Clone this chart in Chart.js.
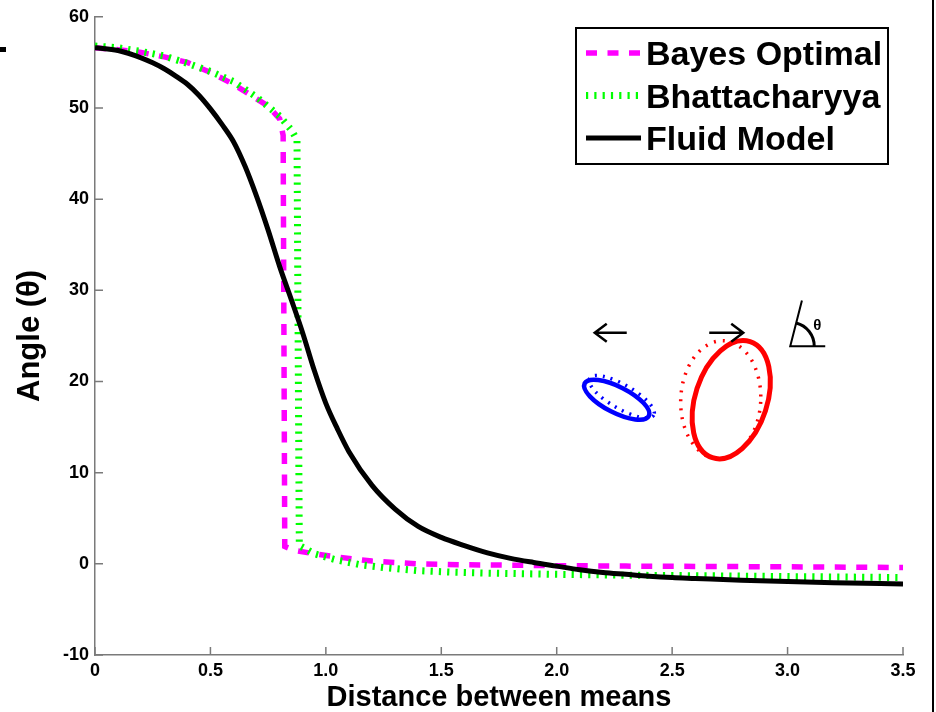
<!DOCTYPE html>
<html>
<head>
<meta charset="utf-8">
<title>Angle vs distance between means</title>
<script src="https://cdn.jsdelivr.net/npm/chart.js@4.4.0/dist/chart.umd.min.js"></script>
<style>
  html, body { margin: 0; padding: 0; background: #fff; }
  #wrap { position: relative; width: 936px; height: 712px; overflow: hidden; }
  #borde { position: absolute; left: 932px; top: 0; width: 2px; height: 712px; background: #000; }
  #marca { position: absolute; left: 0; top: 47px; width: 6px; height: 5px; background: #000; }
  #frag { position: absolute; left: -9px; top: 658px; font: bold 17px "Liberation Sans", Arial, sans-serif; }
</style>
</head>
<body>
<div id="wrap">
  <canvas id="grafico" width="936" height="712"></canvas>
  <div id="borde"></div>
  <div id="marca"></div>
  <span id="frag">3</span>
</div>
<script>
// --- Datos ---
const xTicks = [0, 0.5, 1, 1.5, 2, 2.5, 3, 3.5];
const yTicks = [-10, 0, 10, 20, 30, 40, 50, 60];

const bayesX = [0, 0.1, 0.2, 0.3, 0.4, 0.5, 0.6, 0.7, 0.75, 0.8, 0.815, 0.822, 0.86, 0.95, 1.05, 1.2, 1.4, 1.6, 1.8, 2.0, 2.3, 2.6, 3.0, 3.5];
const bayesY = [56.6, 56.4, 56.1, 55.6, 55.0, 53.9, 52.6, 51.0, 50.2, 48.8, 47.0, 1.9, 1.5, 1.1, 0.75, 0.3, 0.0, -0.1, -0.15, -0.2, -0.25, -0.28, -0.33, -0.4];

const bhattX = [0, 0.1, 0.2, 0.3, 0.4, 0.5, 0.6, 0.7, 0.8, 0.85, 0.875, 0.885, 0.95, 1.05, 1.15, 1.25, 1.4, 1.55, 1.7, 2.0, 2.3, 2.7, 3.0, 3.5];
const bhattY = [56.8, 56.6, 56.2, 55.7, 54.9, 54.0, 52.9, 51.2, 49.1, 47.6, 46.5, 2.0, 1.1, 0.4, -0.1, -0.4, -0.75, -0.92, -1.02, -1.15, -1.25, -1.32, -1.4, -1.5];

const fluidX = [0, 0.1, 0.2, 0.25, 0.3, 0.35, 0.4, 0.45, 0.5, 0.55, 0.6, 0.65, 0.7, 0.75, 0.8, 0.85, 0.9, 0.95, 1.0, 1.05, 1.1, 1.2, 1.3, 1.4, 1.5, 1.6, 1.7, 1.8, 1.9, 2.0, 2.1, 2.2, 2.3, 2.4, 2.5, 2.6, 2.8, 3.0, 3.2, 3.5];
const fluidY = [56.6, 56.3, 55.5, 54.95, 54.3, 53.5, 52.6, 51.4, 49.9, 48.2, 46.3, 43.6, 40.3, 36.6, 32.6, 29.0, 25.3, 21.2, 17.6, 14.8, 12.3, 8.6, 6.0, 4.1, 2.9, 2.0, 1.2, 0.6, 0.15, -0.25, -0.65, -0.95, -1.15, -1.35, -1.5, -1.6, -1.8, -1.95, -2.07, -2.2];

const puntos = (xs, ys) => xs.map((x, i) => ({ x, y: ys[i] }));

const FUENTE = '"Liberation Sans", Arial, Helvetica, sans-serif';
const GRIS = "#7a7a7a";

// Ticks hacia adentro (estilo MATLAB).
const ticksInternos = {
  id: "ticksInternos",
  afterDraw(chart) {
    const { ctx, chartArea: a, scales } = chart;
    ctx.save();
    ctx.strokeStyle = GRIS;
    ctx.lineWidth = 1.5;
    ctx.beginPath();
    xTicks.forEach((v) => {
      const px = scales.x.getPixelForValue(v);
      ctx.moveTo(px, a.bottom);
      ctx.lineTo(px, a.bottom - 8);
    });
    yTicks.forEach((v) => {
      const py = scales.y.getPixelForValue(v);
      ctx.moveTo(a.left, py);
      ctx.lineTo(a.left + 8, py);
    });
    ctx.stroke();
    ctx.restore();
  },
};

// Leyenda con recuadro dentro del área del gráfico.
const leyenda = {
  id: "leyenda",
  afterDraw(chart) {
    const { ctx } = chart;
    ctx.save();
    ctx.fillStyle = "#fff";
    ctx.fillRect(576, 28, 312, 136);
    ctx.strokeStyle = "#000";
    ctx.lineWidth = 2;
    ctx.strokeRect(576, 28, 312, 136);
    chart.data.datasets.forEach((ds, i) => {
      const y = 53 + i * 42.5;
      ctx.beginPath();
      ctx.setLineDash(ds.borderDash || []);
      ctx.lineWidth = ds.borderWidth;
      ctx.strokeStyle = ds.borderColor;
      ctx.moveTo(586, y);
      ctx.lineTo(641, y);
      ctx.stroke();
      ctx.setLineDash([]);
      ctx.fillStyle = "#000";
      ctx.font = "bold 34px " + FUENTE;
      ctx.textBaseline = "alphabetic";
      ctx.fillText(ds.label, 646, y + 12);
    });
    ctx.restore();
  },
};

// Dibujo ilustrativo (elipses, flechas y ángulo θ), anclado en coordenadas de datos.
const ancla = { x: 2.26, y: 18 };
const inset = {
  id: "inset",
  afterDraw(chart) {
    const { ctx, scales } = chart;
    const ox = scales.x.getPixelForValue(ancla.x);
    const oy = scales.y.getPixelForValue(ancla.y);
    const rad = (g) => (g * Math.PI) / 180;
    ctx.save();

    const elipse = (dx, dy, rx, ry, rot, color, ancho, guion) => {
      ctx.beginPath();
      ctx.setLineDash(guion);
      ctx.lineWidth = ancho;
      ctx.strokeStyle = color;
      ctx.ellipse(ox + dx, oy + dy, rx, ry, rad(rot), 0, Math.PI * 2);
      ctx.stroke();
    };
    // azul
    elipse(5, -3, 37, 12, 30, "#0000ff", 3.5, [2, 6]);
    elipse(0, 0, 36, 13, 27, "#0000ff", 4.5, []);
    // rojo
    elipse(104, 0, 40, 59, 3, "#ff0000", 3.5, [2, 7]);
    elipse(114.5, 0, 36, 61, 18, "#ff0000", 5, []);

    // flechas
    ctx.setLineDash([]);
    ctx.strokeStyle = "#000";
    ctx.lineWidth = 2.5;
    const flecha = (x1, x2, y, dir) => {
      const punta = dir < 0 ? x1 : x2;
      ctx.beginPath();
      ctx.moveTo(x1, y);
      ctx.lineTo(x2, y);
      ctx.moveTo(punta - dir * 12, y - 9);
      ctx.lineTo(punta, y);
      ctx.lineTo(punta - dir * 12, y + 9);
      ctx.stroke();
    };
    flecha(ox - 22, ox + 10, oy - 67, -1);
    flecha(ox + 92.5, ox + 126.5, oy - 67, 1);

    // ángulo θ
    const ax = ox + 173.5, ay = oy - 53.5;
    ctx.lineWidth = 2;
    ctx.beginPath();
    ctx.moveTo(ax + 35, ay);
    ctx.lineTo(ax, ay);
    ctx.lineTo(ax + 11.7, ay - 45.7);
    ctx.stroke();
    ctx.lineWidth = 3;
    ctx.beginPath();
    ctx.arc(ax, ay, 24, rad(-75.6), 0);
    ctx.stroke();
    ctx.fillStyle = "#000";
    ctx.font = "bold 15px " + FUENTE;
    ctx.textAlign = "center";
    ctx.textBaseline = "middle";
    ctx.fillText("θ", ax + 27, ay - 20);
    ctx.restore();
  },
};

new Chart(document.getElementById("grafico"), {
  type: "line",
  data: {
    datasets: [
      {
        label: "Bayes Optimal",
        data: puntos(bayesX, bayesY),
        borderColor: "#ff00ff",
        borderWidth: 5.5,
        borderDash: [11, 10.5],
        borderCapStyle: "butt",
        pointRadius: 0,
        tension: 0,
        order: 3,
      },
      {
        label: "Bhattacharyya",
        data: puntos(bhattX, bhattY),
        borderColor: "#00ff00",
        borderWidth: 7,
        borderDash: [2.2, 6.1],
        borderCapStyle: "butt",
        pointRadius: 0,
        tension: 0,
        order: 2,
      },
      {
        label: "Fluid Model",
        data: puntos(fluidX, fluidY),
        borderColor: "#000000",
        borderWidth: 5,
        pointRadius: 0,
        cubicInterpolationMode: "monotone",
        order: 1,
      },
    ],
  },
  options: {
    responsive: false,
    animation: false,
    devicePixelRatio: 1,
    layout: { padding: { top: 15, right: 33, left: 0, bottom: 0 } },
    plugins: { legend: { display: false }, tooltip: { enabled: false } },
    scales: {
      x: {
        type: "linear",
        min: 0,
        max: 3.5,
        afterFit: (s) => { s.height = 57; },
        afterBuildTicks: (s) => { s.ticks = xTicks.map((v) => ({ value: v })); },
        grid: { display: false, drawTicks: false },
        border: { color: GRIS, width: 1.5 },
        ticks: { color: "#000", font: { family: FUENTE, size: 18, weight: "bold" }, padding: 5, maxRotation: 0, autoSkip: false },
        title: { display: true, text: "Distance between means", color: "#000", font: { family: FUENTE, size: 29, weight: "bold" }, padding: { top: 0, bottom: -3 } },
      },
      y: {
        min: -10,
        max: 60,
        afterFit: (s) => { s.width = 95; },
        afterBuildTicks: (s) => { s.ticks = yTicks.map((v) => ({ value: v })); },
        grid: { display: false, drawTicks: false },
        border: { color: GRIS, width: 1.5 },
        ticks: { color: "#000", font: { family: FUENTE, size: 18, weight: "bold" }, padding: 6 },
        title: { display: true, text: "Angle (θ)", color: "#000", font: { family: FUENTE, size: 31, weight: "bold" }, padding: { top: 12, bottom: 0 } },
      },
    },
  },
  plugins: [ticksInternos, inset, leyenda],
});
</script>
</body>
</html>
